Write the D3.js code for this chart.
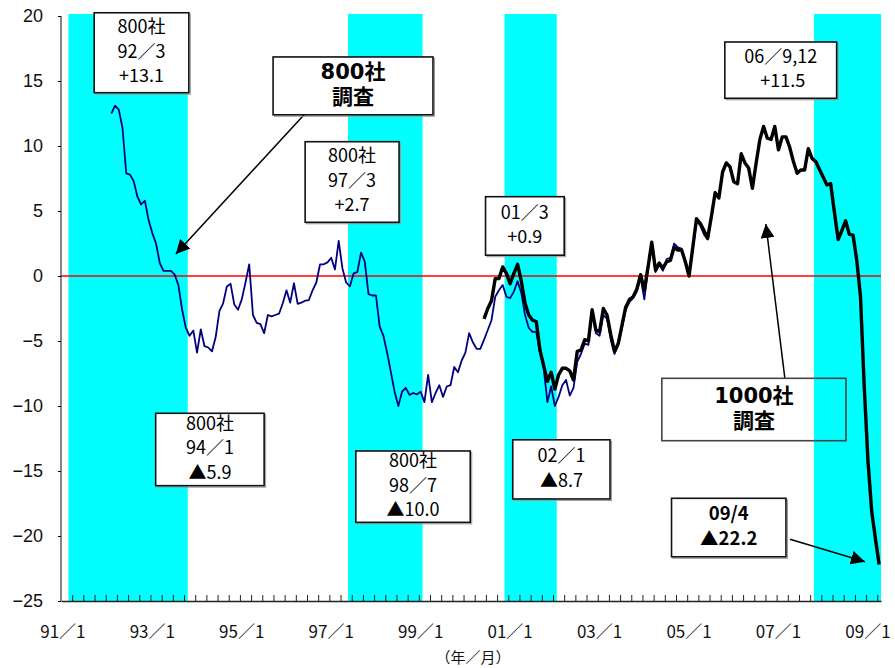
<!DOCTYPE html>
<html><head><meta charset="utf-8">
<script src="https://cdn.jsdelivr.net/npm/d3@7"></script>
<style>body{margin:0;background:#fff}svg text{white-space:pre}</style>
</head><body>
<svg id="c" width="895" height="668"></svg>
<script>
// ---------------- data ----------------
const firstYear = 1991;
const monthCount = 220;               // 1991/1 ... 2009/4
const blueStart = "1992/2";           // 800社調査
const blueValues = [
  12.5, 13.1, 12.8, 11.4, 7.9, 7.8, 7.3, 6.1, 5.5, 5.8, 4.3,
  3.3, 2.5, 1.0, 0.4, 0.4, 0.4, 0.1, -0.7, -2.6, -4.0, -4.6, -4.2,
  -5.9, -4.1, -5.4, -5.5, -5.8, -4.7, -2.7, -2.1, -0.8, -0.6, -2.2, -2.6,
  -1.8, -0.5, 0.9, -3.0, -3.6, -3.7, -4.4, -3.0, -3.1, -3.0, -2.9, -2.1,
  -1.1, -2.05, -0.56, -2.15, -2.05, -1.9, -1.85, -1.1, -0.5, 0.9, 0.9, 1.05,
  1.4, 0.5, 2.7, 0.6, -0.5, -0.8, 0.2, 0.3, 1.8, 1.1, -1.4, -1.5,
  -1.5, -3.9, -4.6, -5.9, -7.4, -8.9, -10.0, -8.9, -8.6, -9.15, -9.0, -9.1,
  -8.9, -9.7, -7.6, -9.7, -9.0, -8.4, -9.3, -8.5, -8.4, -7.0, -7.4, -6.5,
  -5.9, -4.4, -5.1, -5.6, -5.6, -4.9, -4.15, -3.4, -1.6, -1.1, -0.7, -1.6,
  -1.7, -1.2, -0.4, -1.3, -3.0, -4.0, -4.3, -4.3, -5.9, -7.1, -9.7, -8.5,
  -10.0, -9.3, -8.4, -8.0, -9.2, -8.6, -6.6, -6.0, -5.2, -5.3, -2.8, -4.4,
  -4.6, -3.0, -3.3, -4.9, -6.0, -5.3, -4.0, -2.6, -2.0, -1.7, -1.2, -0.1,
  -1.8, 0.5, 2.4, 0.3, 0.9, 0.4, 1.3, 1.4, 2.5, 2.2, 2.1, 1.2,
  0.1, 2.0, 4.2, 3.9, 3.2, 2.8, 4.5, 6.5
];
const blackStart = "2000/6";          // 1000社調査
const blackValues = [
  -3.3, -2.5, -1.9, -0.2, -0.2, 0.7, 0.2,
  -0.6, 0.2, 0.9, -0.4, -2.1, -3.0, -3.4, -3.5, -5.7, -6.9, -8.1, -7.4,
  -8.7, -7.6, -7.1, -7.1, -7.3, -8.0, -5.8, -5.7, -4.9, -5.0, -2.6, -4.15,
  -4.3, -2.5, -3.0, -4.5, -5.8, -5.2, -3.8, -2.4, -1.8, -1.6, -1.0, 0.1,
  -1.1, 0.7, 2.6, 0.45, 1.0, 0.6, 1.1, 1.2, 2.2, 2.0, 2.0, 1.1,
  0.0, 2.2, 4.4, 4.05, 3.5, 2.9, 4.6, 6.4, 6.0, 8.0, 8.7, 8.4,
  7.25, 7.1, 9.4, 8.7, 8.3, 6.75, 8.7, 10.5, 11.5, 10.6, 10.5, 11.5,
  9.7, 10.7, 10.7, 9.9, 8.8, 7.9, 8.15, 8.15, 9.8, 9.05, 8.8, 8.2,
  7.6, 7.0, 7.1, 4.9, 2.8, 3.5, 4.25, 3.2, 3.15, 1.2, -1.6, -8.5,
  -14.2, -18.1, -20.2, -22.2
];
const recessions = [["1991/3","1993/10"],["1997/6","1999/1"],["2000/12","2002/1"],["2007/11","2009/4"]];
const yTicks = [20, 15, 10, 5, 0, -5, -10, -15, -20, -25];
const xLabels = ["91/1","93/1","95/1","97/1","99/1","01/1","03/1","05/1","07/1","09/1"];
const xTitle = "（年／月）";

// annotation boxes: [month0, month1, valueTop, valueBottom] in data units
const notes = [
  {lines:["800社","92/3","+13.1"], box:[8.9,34.3,20.25,14.1]},
  {lines:["800社","調査"], box:[56.9,99.8,16.85,12.4], bold:true, big:true},
  {lines:["800社","97/3","+2.7"], box:[65.5,90.7,10.33,4.13]},
  {lines:["01/3","+0.9"], box:[113.9,135.0,6.1,1.6]},
  {lines:["800社","94/1","▲5.9"], box:[25.4,54.5,-10.56,-16.13]},
  {lines:["800社","98/7","▲10.0"], box:[79.1,109.8,-13.46,-18.95]},
  {lines:["02/1","▲8.7"], box:[121.2,147.3,-12.6,-17.15]},
  {lines:["06/9,12"," +11.5"], box:[178.1,208.1,18.0,13.67]},
  {lines:["1000社","調査"], box:[161.2,210.6,-7.87,-12.67], bold:true, big:true, clear:true},
  {lines:["09/4","▲22.2"], box:[163.8,194.5,-17.1,-21.6], bold:true}
];
const arrows = [
  {from:[65.4,12.46], to:[30.8,1.69]},
  {from:[194.2,-7.85], to:[189.1,4.0]},
  {from:[195.6,-20.25], to:[215.7,-21.98]}
];

// ---------------- chart ----------------
const svg = d3.select("#c");
const x = d3.scaleLinear().domain([0, monthCount]).range([61, 881]);
const y = d3.scaleLinear().domain([-25, 20]).range([601, 16]);
const mi = s => { const [a,b] = s.split("/").map(Number); return (a - firstYear) * 12 + (b - 1); };
const cx = i => x(i + 0.5);
const JP = "'Noto Sans CJK JP', sans-serif";

// text with the "/" drawn as a full-width slash in its own span
function slashText(sel, t) {
  t.split("/").forEach((p, k) => {
    if (k > 0) sel.append("tspan").text("／");
    sel.append("tspan").text(p);
  });
}

// recession bands
svg.append("g").selectAll("rect").data(recessions).join("rect")
  .attr("x", d => x(mi(d[0]))).attr("width", d => x(mi(d[1]) + 1) - x(mi(d[0])))
  .attr("y", y(20) - 2).attr("height", y(-25) - y(20) + 2)
  .attr("fill", "#00FFFF");

// zero line
svg.append("line").attr("x1", x(0)).attr("x2", x(monthCount))
  .attr("y1", y(0)).attr("y2", y(0)).attr("stroke", "#FF0000").attr("stroke-width", 1.6);

// series
const line = d3.line().x(d => cx(d.i)).y(d => y(d.v));
const bl = blueValues.map((v, k) => ({i: mi(blueStart) + k, v}));
const bk = blackValues.map((v, k) => ({i: mi(blackStart) + k, v}));
svg.append("path").datum(bl).attr("d", line).attr("fill", "none")
  .attr("stroke", "#000080").attr("stroke-width", 1.8).attr("stroke-linejoin", "round");
svg.append("path").datum(bk).attr("d", line).attr("fill", "none")
  .attr("stroke", "#000").attr("stroke-width", 3.4).attr("stroke-linejoin", "round");

// axes
const yAxis = svg.append("g").attr("transform", `translate(${x(0)},0)`)
  .call(d3.axisLeft(y).tickValues(yTicks).tickSize(3).tickPadding(15)
    .tickFormat(d => d < 0 ? "−" + Math.abs(d) : String(d)));
yAxis.select(".domain").attr("stroke", "#333").attr("stroke-width", 1.2).attr("d", `M0,${y(20)}V${y(-25)}`);
yAxis.selectAll("text").attr("font-family", "'Liberation Sans', Arial, sans-serif").attr("font-size", 18).attr("fill", "#111");

const qTicks = d3.range(3, monthCount, 3);
const xAxis = svg.append("g").attr("transform", `translate(0,${y(-25)})`)
  .call(d3.axisBottom(x).tickValues(qTicks).tickSizeInner(-6).tickSizeOuter(0).tickFormat(""));
xAxis.selectAll(".tick text").remove();
xAxis.select(".domain").attr("stroke", "#222").attr("stroke-width", 1.4);
xAxis.selectAll(".tick line").attr("stroke", "#222");

svg.append("g").selectAll("text").data(xLabels).join("text")
  .attr("x", (d, k) => cx(k * 24)).attr("y", y(-25) + 37)
  .attr("text-anchor", "middle")
  .attr("font-family", JP).attr("font-size", 17).attr("fill", "#111")
  .each(function(d) { slashText(d3.select(this), d); });
svg.append("text").attr("x", 473).attr("y", 663).attr("text-anchor", "middle")
  .attr("font-family", JP).attr("font-size", 15).attr("fill", "#111")
  .text(xTitle);

// arrows
const defs = svg.append("defs");
defs.append("marker").attr("id", "ah").attr("viewBox", "0 0 10 10").attr("refX", 10).attr("refY", 5)
  .attr("markerWidth", 14).attr("markerHeight", 14).attr("markerUnits", "userSpaceOnUse").attr("orient", "auto")
  .append("path").attr("d", "M0,0L10,5L0,10z").attr("fill", "#000");
svg.append("g").selectAll("line").data(arrows).join("line")
  .attr("x1", d => x(d.from[0])).attr("y1", d => y(d.from[1]))
  .attr("x2", d => x(d.to[0])).attr("y2", d => y(d.to[1]))
  .attr("stroke", "#000").attr("stroke-width", 1.5).attr("marker-end", "url(#ah)");

// annotation boxes
const ng = svg.append("g").selectAll("g").data(notes).join("g");
ng.append("rect")
  .attr("x", d => x(d.box[0]) + 1.5).attr("y", d => y(d.box[2]) + 1.5)
  .attr("width", d => x(d.box[1]) - x(d.box[0])).attr("height", d => y(d.box[3]) - y(d.box[2]))
  .attr("fill", "none").attr("stroke", "#999").attr("stroke-width", 1)
  .attr("display", d => d.clear ? "none" : null);
ng.append("rect")
  .attr("x", d => x(d.box[0])).attr("y", d => y(d.box[2]))
  .attr("width", d => x(d.box[1]) - x(d.box[0])).attr("height", d => y(d.box[3]) - y(d.box[2]))
  .attr("fill", d => d.clear ? "none" : "#fff").attr("stroke", d => d.clear ? "#444" : "#111").attr("stroke-width", 1.6);
ng.each(function(d) {
  const g = d3.select(this);
  const mx = (x(d.box[0]) + x(d.box[1])) / 2;
  const my = (y(d.box[2]) + y(d.box[3])) / 2;
  const sp = d.big ? 25 : (d.bold ? 25.5 : 24.5);
  const n = d.lines.length;
  d.lines.forEach((t, k) => {
    const tx = g.append("text").attr("x", mx).attr("y", my - (n - 1) * sp / 2 + k * sp - 1.5)
      .attr("dy", "0.36em").attr("text-anchor", "middle")
      .attr("font-family", d.big ? "'DejaVu Sans', 'Noto Sans CJK JP', sans-serif" : JP)
      .attr("font-weight", d.bold ? "bold" : "normal")
      .attr("font-size", d.big ? 21 : (d.bold ? 18.5 : 18))
      .attr("fill", "#000");
    if (d.bold) tx.text(t); else slashText(tx, t);
  });
});
</script>
</body></html>
